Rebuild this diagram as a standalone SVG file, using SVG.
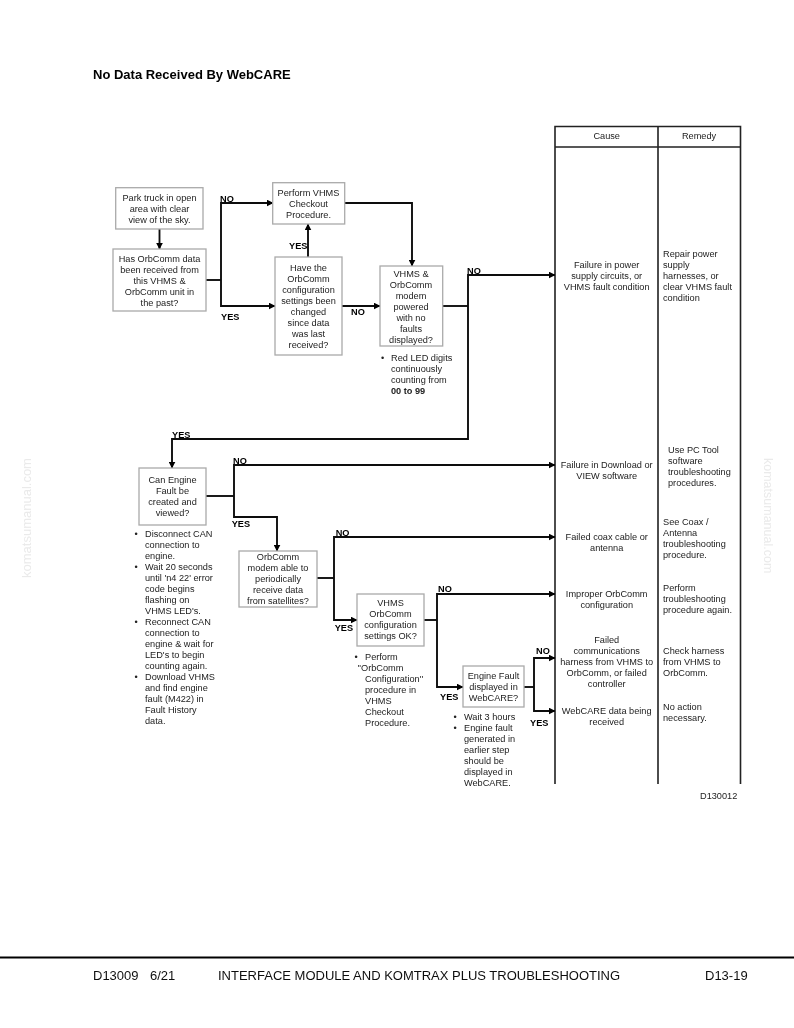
<svg xmlns="http://www.w3.org/2000/svg" width="794" height="1028" viewBox="0 0 794 1028">
<style>
text{font-family:"Liberation Sans",Arial,sans-serif;font-size:9.2px;fill:#222}
.c{text-anchor:middle}
.b{font-weight:bold;fill:#000}
.box{fill:#fff;stroke:#aaa;stroke-width:1.3}
.l{fill:none;stroke:#111;stroke-width:1.9}
.t{fill:none;stroke:#222;stroke-width:1.6}
.wm{font-size:13px;fill:#eaeaea}
.ft{font-size:13px;fill:#111}
</style>
<defs>
<marker id="a" viewBox="0 0 6 6" refX="5.500" refY="3" markerWidth="7" markerHeight="7" markerUnits="userSpaceOnUse" orient="auto"><path d="M0 0L6 3L0 6Z" fill="#000"/></marker>
<filter id="soft" x="0" y="0" width="100%" height="100%"><feGaussianBlur stdDeviation="0.4"/></filter>
</defs>
<rect width="794" height="1028" fill="#fff"/>
<g filter="url(#soft)">
<text x="93" y="79" class="b" style="font-size:13px">No Data Received By WebCARE</text>
<text class="wm" transform="translate(31,578) rotate(-90)">komatsumanual.com</text>
<text class="wm" style="font-size:12.500px" transform="translate(764,458) rotate(90)">komatsumanual.com</text>
<g id="table">
<path class="t" d="M555 784V126.500H740.500V784M658 126.500V784M555 147H740.500"/>
<text x="606.700" y="139" class="c">Cause</text>
<text x="699" y="139" class="c">Remedy</text>
</g>
<g id="connectors">
<path class="l" marker-end="url(#a)" d="M159.500 229V249"/>
<path class="l" d="M206 280H221"/>
<path class="l" marker-end="url(#a)" d="M221 280V203H273"/>
<path class="l" marker-end="url(#a)" d="M221 280V306H275"/>
<path class="l" marker-end="url(#a)" d="M344.700 203H412V266"/>
<path class="l" marker-end="url(#a)" d="M308 257V224"/>
<path class="l" marker-end="url(#a)" d="M342 306H380"/>
<path class="l" d="M442.700 306H468"/>
<path class="l" marker-end="url(#a)" d="M468 306V275H555"/>
<path class="l" marker-end="url(#a)" d="M468 306V439H172V468"/>
<path class="l" d="M206 496H234"/>
<path class="l" marker-end="url(#a)" d="M234 496V465H555"/>
<path class="l" marker-end="url(#a)" d="M234 496V517H277V551"/>
<path class="l" d="M317 578H334"/>
<path class="l" marker-end="url(#a)" d="M334 578V537H555"/>
<path class="l" marker-end="url(#a)" d="M334 578V620H357"/>
<path class="l" d="M424 620H437"/>
<path class="l" marker-end="url(#a)" d="M437 620V594H555"/>
<path class="l" marker-end="url(#a)" d="M437 620V687H463"/>
<path class="l" d="M524 687H534"/>
<path class="l" marker-end="url(#a)" d="M534 687V658H555"/>
<path class="l" marker-end="url(#a)" d="M534 687V711H555"/>
</g>
<g id="labels">
<text x="220" y="201.500" class="b">NO</text>
<text x="221" y="319.500" class="b">YES</text>
<text x="289" y="248.500" class="b">YES</text>
<text x="351" y="314.500" class="b">NO</text>
<text x="467" y="273.500" class="b">NO</text>
<text x="172" y="437.500" class="b">YES</text>
<text x="233" y="463.500" class="b">NO</text>
<text x="231.700" y="526.500" class="b">YES</text>
<text x="335.700" y="535.500" class="b">NO</text>
<text x="334.700" y="630.500" class="b">YES</text>
<text x="438" y="592" class="b">NO</text>
<text x="440" y="700" class="b">YES</text>
<text x="536" y="653.500" class="b">NO</text>
<text x="530" y="725.500" class="b">YES</text>
</g>
<g id="park"><rect class="box" x="115.700" y="187.700" width="87.300" height="41.300"/>
<text class="c" x="159.500" y="200.500">Park truck in open</text><text class="c" x="159.500" y="211.500">area with clear</text><text class="c" x="159.500" y="222.500">view of the sky.</text></g>
<g id="has-data"><rect class="box" x="113" y="249" width="93" height="62"/>
<text class="c" x="159.500" y="261.500">Has OrbComm data</text><text class="c" x="159.500" y="272.500">been received from</text><text class="c" x="159.500" y="283.500">this VHMS &amp;</text><text class="c" x="159.500" y="294.500">OrbComm unit in</text><text class="c" x="159.500" y="305.500">the past?</text></g>
<g id="perform"><rect class="box" x="272.700" y="182.700" width="72" height="41.300"/>
<text class="c" x="308.500" y="195.500">Perform VHMS</text><text class="c" x="308.500" y="206.500">Checkout</text><text class="c" x="308.500" y="217.500">Procedure.</text></g>
<g id="have-config"><rect class="box" x="275" y="257" width="67" height="98"/>
<text class="c" x="308.500" y="271">Have the</text><text class="c" x="308.500" y="282">OrbComm</text><text class="c" x="308.500" y="293">configuration</text><text class="c" x="308.500" y="304">settings been</text><text class="c" x="308.500" y="315">changed</text><text class="c" x="308.500" y="326">since data</text><text class="c" x="308.500" y="337">was last</text><text class="c" x="308.500" y="348">received?</text></g>
<g id="vhms-powered"><rect class="box" x="380" y="266" width="62.700" height="80"/>
<text class="c" x="411" y="276.500">VHMS &amp;</text><text class="c" x="411" y="287.500">OrbComm</text><text class="c" x="411" y="298.500">modem</text><text class="c" x="411" y="309.500">powered</text><text class="c" x="411" y="320.500">with no</text><text class="c" x="411" y="331.500">faults</text><text class="c" x="411" y="342.500">displayed?</text></g>
<g id="led-note"><text x="381" y="360.500">•</text><text x="391" y="360.500">Red LED digits</text><text x="391" y="371.500">continuously</text><text x="391" y="382.500">counting from</text><text x="391" y="393.500" style="font-weight:bold">00 to 99</text></g>
<g id="engine-fault"><rect class="box" x="139" y="468" width="67" height="57"/>
<text class="c" x="172.500" y="483">Can Engine</text><text class="c" x="172.500" y="494">Fault be</text><text class="c" x="172.500" y="505">created and</text><text class="c" x="172.500" y="516">viewed?</text></g>
<g id="can-note"><text x="134.500" y="536.700">•</text><text x="134.500" y="569.700">•</text><text x="134.500" y="624.700">•</text><text x="134.500" y="679.700">•</text>
<text x="145" y="536.700">Disconnect CAN</text><text x="145" y="547.700">connection to</text><text x="145" y="558.700">engine.</text><text x="145" y="569.700">Wait 20 seconds</text><text x="145" y="580.700">until 'n4 22' error</text><text x="145" y="591.700">code begins</text><text x="145" y="602.700">flashing on</text><text x="145" y="613.700">VHMS LED's.</text><text x="145" y="624.700">Reconnect CAN</text><text x="145" y="635.700">connection to</text><text x="145" y="646.700">engine &amp; wait for</text><text x="145" y="657.700">LED's to begin</text><text x="145" y="668.700">counting again.</text><text x="145" y="679.700">Download VHMS</text><text x="145" y="690.700">and find engine</text><text x="145" y="701.700">fault (M422) in</text><text x="145" y="712.700">Fault History</text><text x="145" y="723.700">data.</text></g>
<g id="orbcomm-modem"><rect class="box" x="239" y="551" width="78" height="56"/>
<text class="c" x="278" y="560">OrbComm</text><text class="c" x="278" y="571">modem able to</text><text class="c" x="278" y="582">periodically</text><text class="c" x="278" y="593">receive data</text><text class="c" x="278" y="604">from satellites?</text></g>
<g id="config-ok"><rect class="box" x="357" y="594" width="67" height="52"/>
<text class="c" x="390.500" y="606">VHMS</text><text class="c" x="390.500" y="617">OrbComm</text><text class="c" x="390.500" y="628">configuration</text><text class="c" x="390.500" y="639">settings OK?</text></g>
<g id="config-note"><text x="354.500" y="660">•</text><text x="365" y="660">Perform</text><text x="357.500" y="671">''OrbComm</text><text x="365" y="682">Configuration''</text><text x="365" y="693">procedure in</text><text x="365" y="704">VHMS</text><text x="365" y="715">Checkout</text><text x="365" y="726">Procedure.</text></g>
<g id="fault-displayed"><rect class="box" x="463" y="666" width="61" height="41"/>
<text class="c" x="493.500" y="679">Engine Fault</text><text class="c" x="493.500" y="690">displayed in</text><text class="c" x="493.500" y="701">WebCARE?</text></g>
<g id="wait-note"><text x="453.500" y="720">•</text><text x="453.500" y="731">•</text><text x="464" y="720">Wait 3 hours</text><text x="464" y="731">Engine fault</text><text x="464" y="742">generated in</text><text x="464" y="753">earlier step</text><text x="464" y="764">should be</text><text x="464" y="775">displayed in</text><text x="464" y="786">WebCARE.</text></g>
<g id="causes">
<text class="c" x="606.700" y="268">Failure in power</text><text class="c" x="606.700" y="279">supply circuits, or</text><text class="c" x="606.700" y="290">VHMS fault condition</text>
<text class="c" x="606.700" y="467.500">Failure in Download or</text><text class="c" x="606.700" y="478.500">VIEW software</text>
<text class="c" x="606.700" y="540">Failed coax cable or</text><text class="c" x="606.700" y="551">antenna</text>
<text class="c" x="606.700" y="597">Improper OrbComm</text><text class="c" x="606.700" y="608">configuration</text>
<text class="c" x="606.700" y="642.500">Failed</text><text class="c" x="606.700" y="653.500">communications</text><text class="c" x="606.700" y="664.500">harness from VHMS to</text><text class="c" x="606.700" y="675.500">OrbComm, or failed</text><text class="c" x="606.700" y="686.500">controller</text>
<text class="c" x="606.700" y="714">WebCARE data being</text><text class="c" x="606.700" y="725">received</text>
</g>
<g id="remedies">
<text x="663" y="257">Repair power</text><text x="663" y="268">supply</text><text x="663" y="279">harnesses, or</text><text x="663" y="290">clear VHMS fault</text><text x="663" y="301">condition</text>
<text x="668" y="452.500">Use PC Tool</text><text x="668" y="463.500">software</text><text x="668" y="474.500">troubleshooting</text><text x="668" y="485.500">procedures.</text>
<text x="663" y="525">See Coax /</text><text x="663" y="536">Antenna</text><text x="663" y="547">troubleshooting</text><text x="663" y="558">procedure.</text>
<text x="663" y="591">Perform</text><text x="663" y="602">troubleshooting</text><text x="663" y="613">procedure again.</text>
<text x="663" y="653.500">Check harness</text><text x="663" y="664.500">from VHMS to</text><text x="663" y="675.500">OrbComm.</text>
<text x="663" y="709.500">No action</text><text x="663" y="720.500">necessary.</text>
</g>
<text x="700" y="798.500">D130012</text>
<g id="footer">
<path d="M0 957.500H794" stroke="#000" stroke-width="2"/>
<text class="ft" x="93" y="980">D13009</text><text class="ft" x="150" y="980">6/21</text>
<text class="ft" x="218" y="980">INTERFACE MODULE AND KOMTRAX PLUS TROUBLESHOOTING</text>
<text class="ft" x="705" y="980">D13-19</text>
</g>
</g>
</svg>
